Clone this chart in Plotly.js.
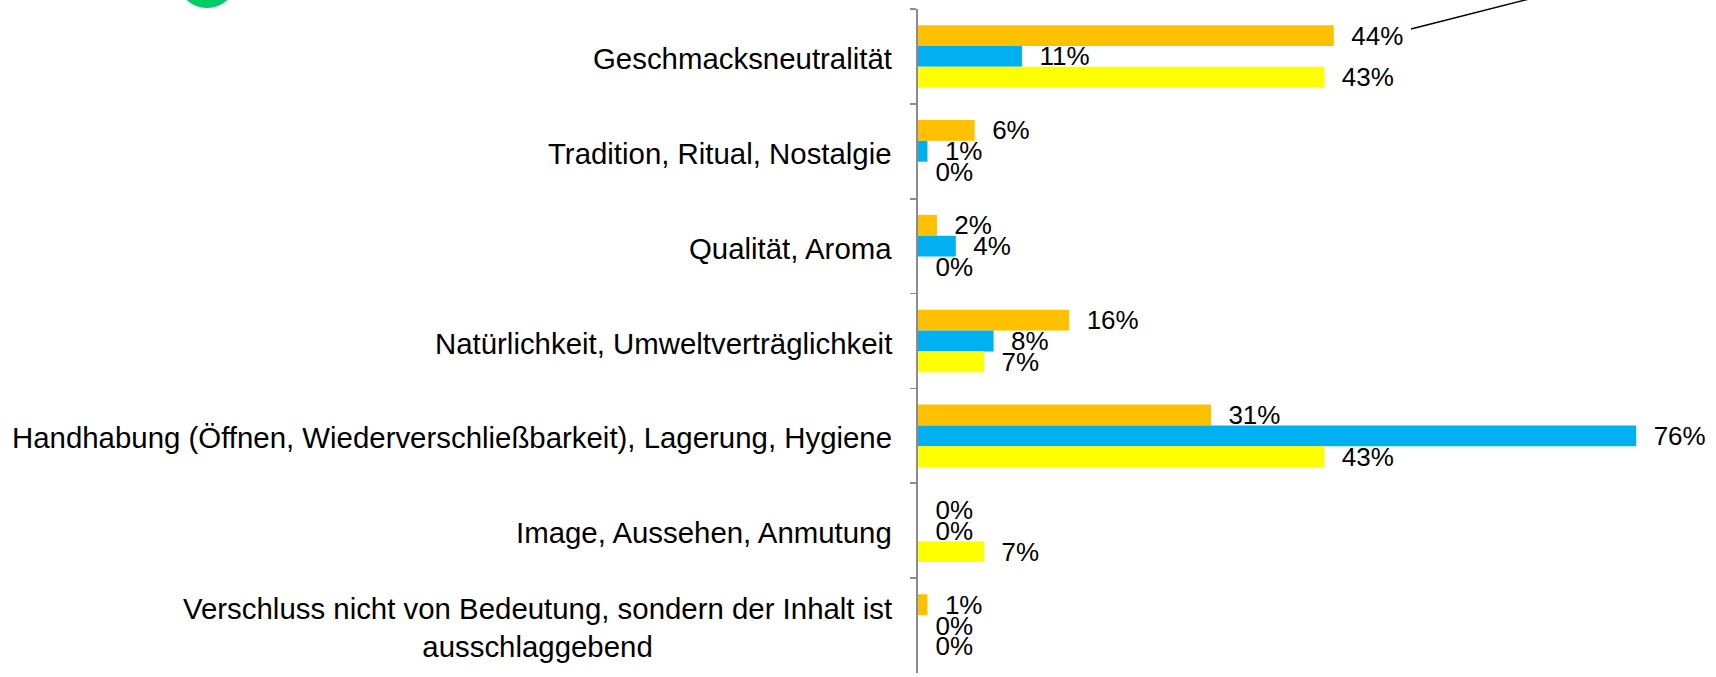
<!DOCTYPE html>
<html>
<head>
<meta charset="utf-8">
<script src="https://cdn.plot.ly/plotly-3.0.1.min.js"></script>
<style>
html,body{margin:0;padding:0;background:#fff;}
#chart{width:1716px;height:677px;}
</style>
</head>
<body>
<div id="chart"></div>
<script>
// Categories (top to bottom)
const categories = [
  "Geschmacksneutralität",
  "Tradition, Ritual, Nostalgie",
  "Qualität, Aroma",
  "Natürlichkeit, Umweltverträglichkeit",
  "Handhabung (Öffnen, Wiederverschließbarkeit), Lagerung, Hygiene",
  "Image, Aussehen, Anmutung",
  "Verschluss nicht von Bedeutung, sondern der Inhalt ist<br>ausschlaggebend"
];
// Series values in percent
const seriesOrange = [44, 6, 2, 16, 31, 0, 1];
const seriesBlue   = [11, 1, 4, 8, 76, 0, 0];
const seriesYellow = [43, 0, 0, 7, 43, 7, 0];

const colors = ["#FFC000", "#00B0F0", "#FFFF00"];
const allSeries = [seriesOrange, seriesBlue, seriesYellow];
const FONT = "Liberation Sans, Arial, sans-serif";

const traces = allSeries.map((vals, i) => ({
  type: "bar",
  orientation: "h",
  y: categories,
  x: vals,
  marker: {color: colors[i], line: {width: 0}},
  text: vals.map(v => v + "%"),
  texttemplate: "\u00a0\u00a0%{text}",
  textposition: "outside",
  constraintext: "none",
  cliponaxis: false,
  textfont: {family: FONT, size: 26, color: "#000"},
  hoverinfo: "skip",
  showlegend: false
}));

const annotations = categories.map(c => ({
  xref: "paper", x: 0, xanchor: "right", xshift: -24,
  yref: "y", y: c, yanchor: "middle", yshift: -2,
  text: c, showarrow: false, align: "center",
  font: {family: FONT, size: 29.4, color: "#000"}
}));

const layout = {
  width: 1716, height: 677,
  margin: {l: 918, r: 42, t: 9, b: 4, pad: 0},
  paper_bgcolor: "#fff", plot_bgcolor: "#fff",
  barmode: "group",
  bargap: 0.34,
  bargroupgap: 0,
  font: {family: FONT, color: "#000"},
  xaxis: {range: [0, 80], visible: false, fixedrange: true},
  yaxis: {
    type: "category",
    autorange: "reversed",
    showticklabels: false,
    showgrid: false, zeroline: false,
    showline: true, linecolor: "#8C8C8C", linewidth: 1.6,
    ticks: "outside", ticklen: 6, tickcolor: "#8C8C8C", tickwidth: 1.6,
    tickson: "boundaries"
  },
  annotations: annotations,
  shapes: [
    {type: "line", xref: "paper", yref: "paper",
     x0: (1411 - 918) / 756, y0: 1 - (29 - 9) / 664,
     x1: (1545 - 918) / 756, y1: 1 + (9 + 5) / 664,
     line: {color: "#000", width: 1.5}},
    {type: "circle", xref: "paper", yref: "paper",
     x0: (177 - 918) / 756, x1: (237 - 918) / 756,
     y0: 1 + (9 - 8) / 664, y1: 1 + (9 + 52) / 664,
     fillcolor: "#00CC66", line: {width: 0}}
  ]
};

Plotly.newPlot("chart", traces, layout, {displayModeBar: false, staticPlot: true});
</script>
</body>
</html>
